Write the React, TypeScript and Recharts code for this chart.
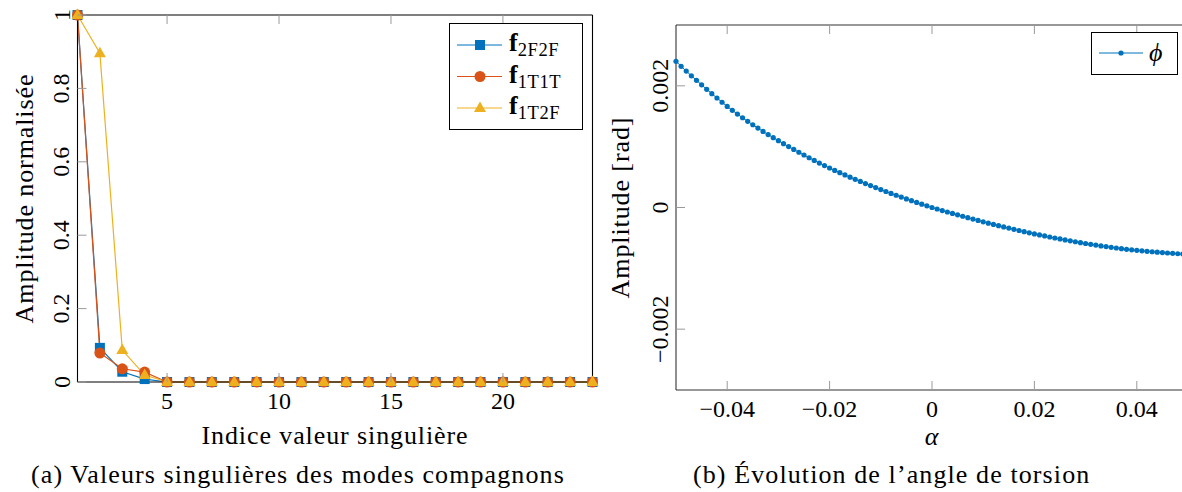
import React from 'react';
import { LineChart, Line, XAxis, YAxis, Legend } from 'recharts';

const FONT = '"Liberation Serif", "DejaVu Serif", serif';
const BLUE = '#0072BD';
const ORANGE = '#D95319';
const YELLOW = '#EDB120';
const TICK_COLOR = '#9a9a9a';
const TICK_LEN = 9;

// (a) singular values of the companion modes
const indices = [1, 2, 3, 4, 5, 6, 7, 8, 9, 10, 11, 12, 13, 14, 15, 16, 17, 18, 19, 20, 21, 22, 23, 24];
const f2F2F = [1, 0.093, 0.028, 0.008, 0, 0, 0, 0, 0, 0, 0, 0, 0, 0, 0, 0, 0, 0, 0, 0, 0, 0, 0, 0];
const f1T1T = [1, 0.079, 0.036, 0.027, 0, 0, 0, 0, 0, 0, 0, 0, 0, 0, 0, 0, 0, 0, 0, 0, 0, 0, 0, 0];
const f1T2F = [1, 0.896, 0.087, 0.019, 0, 0, 0, 0, 0, 0, 0, 0, 0, 0, 0, 0, 0, 0, 0, 0, 0, 0, 0, 0];
const leftXTicks = [5, 10, 15, 20];
const leftXTickLabels = ['5', '10', '15', '20'];
const leftYTicks = [0, 0.2, 0.4, 0.6, 0.8, 1];
const leftYTickLabels = ['0', '0.2', '0.4', '0.6', '0.8', '1'];

// (b) torsion angle vs alpha
const alpha = [
  -0.05, -0.049, -0.048, -0.047, -0.046, -0.045, -0.044, -0.043, -0.042, -0.041,
  -0.04, -0.039, -0.038, -0.037, -0.036, -0.035, -0.034, -0.033, -0.032, -0.031,
  -0.03, -0.029, -0.028, -0.027, -0.026, -0.025, -0.024, -0.023, -0.022, -0.021,
  -0.02, -0.019, -0.018, -0.017, -0.016, -0.015, -0.014, -0.013, -0.012, -0.011,
  -0.01, -0.009, -0.008, -0.007, -0.006, -0.005, -0.004, -0.003, -0.002, -0.001,
  0, 0.001, 0.002, 0.003, 0.004, 0.005, 0.006, 0.007, 0.008, 0.009,
  0.01, 0.011, 0.012, 0.013, 0.014, 0.015, 0.016, 0.017, 0.018, 0.019,
  0.02, 0.021, 0.022, 0.023, 0.024, 0.025, 0.026, 0.027, 0.028, 0.029,
  0.03, 0.031, 0.032, 0.033, 0.034, 0.035, 0.036, 0.037, 0.038, 0.039,
  0.04, 0.041, 0.042, 0.043, 0.044, 0.045, 0.046, 0.047, 0.048, 0.049, 0.05,
];
const phi = [
  0.002403, 0.002321, 0.002242, 0.002165, 0.00209, 0.002016, 0.001943, 0.001871, 0.0018, 0.00173,
  0.001661, 0.001597, 0.001535, 0.001475, 0.001417, 0.00136, 0.001305, 0.001251, 0.001199, 0.001148,
  0.001098, 0.001049, 0.001001, 0.000954, 0.000908, 0.000863, 0.000818, 0.000774, 0.000731, 0.000689,
  0.000649, 0.00061, 0.000572, 0.000535, 0.000499, 0.000463, 0.000428, 0.000394, 0.00036, 0.000327,
  0.000295, 0.000263, 0.000232, 0.000201, 0.000171, 0.000141, 0.000112, 0.000083, 0.000055, 0.000027,
  0, -0.000025, -0.00005, -0.000074, -0.000098, -0.000121, -0.000144, -0.000167, -0.00019, -0.000213,
  -0.000236, -0.000257, -0.000278, -0.000299, -0.000319, -0.000339, -0.000359, -0.000378, -0.000397, -0.000416,
  -0.000434, -0.000451, -0.000468, -0.000485, -0.000501, -0.000517, -0.000533, -0.000548, -0.000563, -0.000578,
  -0.000592, -0.000605, -0.000618, -0.000631, -0.000643, -0.000655, -0.000666, -0.000677, -0.000687, -0.000696,
  -0.000704, -0.000712, -0.00072, -0.000727, -0.000734, -0.000741, -0.000748, -0.000754, -0.00076, -0.000766, -0.000772,
];
const rightXTicks = [-0.04, -0.02, 0, 0.02, 0.04];
const rightXTickLabels = ['\u22120.04', '\u22120.02', '0', '0.02', '0.04'];
const rightYTicks = [-0.002, 0, 0.002];
const rightYTickLabels = ['\u22120.002', '0', '0.002'];

const leftData = indices.map((i, k) => ({ index: i, f2F2F: f2F2F[k], f1T1T: f1T1T[k], f1T2F: f1T2F[k] }));
const rightData = alpha.map((a, k) => ({ alpha: a, phi: phi[k] }));

const tickText: React.CSSProperties = { fontFamily: FONT, fontSize: 24, fill: '#000' };

// inward ticks like pgfplots, labels drawn by hand
const bottomTick = (ticks: number[], labels: string[]) => (props: any) => {
  const { x, y, payload } = props;
  return (
    <g>
      <line x1={x} x2={x} y1={y} y2={y - TICK_LEN} stroke={TICK_COLOR} />
      <text x={x} y={y + 27} textAnchor="middle" style={tickText}>
        {labels[ticks.indexOf(payload.value)]}
      </text>
    </g>
  );
};

const topTick = (props: any) => {
  const { x, y } = props;
  return <line x1={x} x2={x} y1={y} y2={y + TICK_LEN} stroke={TICK_COLOR} />;
};

const leftTick = (ticks: number[], labels: string[]) => (props: any) => {
  const { x, y, payload } = props;
  const tx = x - 8;
  return (
    <g>
      <line x1={x} x2={x + TICK_LEN} y1={y} y2={y} stroke={TICK_COLOR} />
      <text x={tx} y={y} transform={`rotate(-90 ${tx} ${y})`} textAnchor="middle" style={tickText}>
        {labels[ticks.indexOf(payload.value)]}
      </text>
    </g>
  );
};

const rightTick = (props: any) => {
  const { x, y } = props;
  return <line x1={x} x2={x - TICK_LEN} y1={y} y2={y} stroke={TICK_COLOR} />;
};

const squareDot = (color: string) => (props: any) => (
  <rect key={`sq-${props.index}`} x={props.cx - 5} y={props.cy - 5} width={10} height={10} fill={color} />
);
const circleDot = (color: string) => (props: any) => (
  <circle key={`ci-${props.index}`} cx={props.cx} cy={props.cy} r={5.5} fill={color} />
);
const triangleDot = (color: string) => (props: any) => (
  <path
    key={`tr-${props.index}`}
    d={`M${props.cx},${props.cy - 6.5} L${props.cx + 6},${props.cy + 4} L${props.cx - 6},${props.cy + 4} Z`}
    fill={color}
  />
);
const smallDot = (props: any) => (
  <circle key={`d-${props.index}`} cx={props.cx} cy={props.cy} r={2.6} fill={BLUE} />
);

const legendRows = [
  { sub: '2F2F', color: BLUE, shape: 'square' },
  { sub: '1T1T', color: ORANGE, shape: 'circle' },
  { sub: '1T2F', color: YELLOW, shape: 'triangle' },
];

function LeftLegend() {
  return (
    <svg width={134} height={107} style={{ display: 'block' }}>
      <rect x={0.5} y={0.5} width={133} height={106} fill="#fff" stroke="#000" />
      {legendRows.map((r, i) => {
        const cy = 22 + i * 31.5;
        return (
          <g key={r.sub}>
            <line x1={8} x2={53} y1={cy} y2={cy} stroke={r.color} strokeWidth={1.2} />
            {r.shape === 'square' && <rect x={26} y={cy - 5} width={10} height={10} fill={r.color} />}
            {r.shape === 'circle' && <circle cx={31} cy={cy} r={5.5} fill={r.color} />}
            {r.shape === 'triangle' && (
              <path d={`M31,${cy - 6.5} L37,${cy + 4} L25,${cy + 4} Z`} fill={r.color} />
            )}
            <text x={60} y={cy + 6} style={{ fontFamily: FONT, fontSize: 26, fill: '#000' }}>
              <tspan fontWeight="bold">f</tspan>
              <tspan fontSize={18.5} dy={5} letterSpacing={0.6}>{r.sub}</tspan>
            </text>
          </g>
        );
      })}
    </svg>
  );
}

function RightLegend() {
  return (
    <svg width={87} height={43} style={{ display: 'block' }}>
      <rect x={0.5} y={0.5} width={86} height={42} fill="#fff" stroke="#000" />
      <line x1={8} x2={52} y1={21} y2={21} stroke={BLUE} strokeWidth={1} />
      <circle cx={30} cy={21} r={2.6} fill={BLUE} />
      <text x={58} y={29} style={{ fontFamily: FONT, fontSize: 26, fontStyle: 'italic', fill: '#000' }}>
        {'\u03D5'}
      </text>
    </svg>
  );
}

const titleStyle: React.CSSProperties = { fontFamily: FONT, fontSize: 26, fill: '#000', letterSpacing: 0.9 };
const captionStyle: React.CSSProperties = { ...titleStyle, letterSpacing: 1.1 };

export default function App() {
  return (
    <div
      style={{
        position: 'fixed',
        left: 0,
        top: 0,
        width: 1182,
        height: 492,
        overflow: 'hidden',
        background: '#fff',
      }}
    >
      <div style={{ position: 'absolute', left: 0, top: 0 }}>
        {/* plot area: x 77.5..592.5, y 15..382 */}
        <LineChart width={600} height={430} data={leftData} margin={{ top: 10, left: 27.5, right: 2.5, bottom: 18 }}>
          <XAxis
            dataKey="index"
            type="number"
            domain={[1, 24]}
            ticks={leftXTicks}
            interval={0}
            height={30}
            tickSize={0}
            tickMargin={0}
            tickLine={false}
            axisLine={{ stroke: '#000', strokeWidth: 1.1 }}
            tick={bottomTick(leftXTicks, leftXTickLabels)}
          />
          <XAxis
            xAxisId="top"
            orientation="top"
            dataKey="index"
            type="number"
            domain={[1, 24]}
            ticks={leftXTicks}
            interval={0}
            height={5}
            tickSize={0}
            tickMargin={0}
            tickLine={false}
            axisLine={{ stroke: '#000', strokeWidth: 1.1 }}
            tick={topTick}
          />
          <YAxis
            type="number"
            domain={[0, 1]}
            ticks={leftYTicks}
            interval={0}
            width={50}
            tickSize={0}
            tickMargin={0}
            tickLine={false}
            axisLine={{ stroke: '#000', strokeWidth: 1.1 }}
            tick={leftTick(leftYTicks, leftYTickLabels)}
          />
          <YAxis
            yAxisId="right"
            orientation="right"
            type="number"
            domain={[0, 1]}
            ticks={leftYTicks}
            interval={0}
            width={5}
            tickSize={0}
            tickMargin={0}
            tickLine={false}
            axisLine={{ stroke: '#000', strokeWidth: 1.1 }}
            tick={rightTick}
          />
          <Legend
            layout="vertical"
            align="center"
            verticalAlign="middle"
            content={() => <LeftLegend />}
            wrapperStyle={{ left: 449, top: 23, width: 134, height: 107 }}
          />
          <Line type="linear" dataKey="f2F2F" name="f2F2F" stroke={BLUE} strokeWidth={1.2} dot={squareDot(BLUE)} activeDot={false} isAnimationActive={false} />
          <Line type="linear" dataKey="f1T1T" name="f1T1T" stroke={ORANGE} strokeWidth={1.2} dot={circleDot(ORANGE)} activeDot={false} isAnimationActive={false} />
          <Line type="linear" dataKey="f1T2F" name="f1T2F" stroke={YELLOW} strokeWidth={1.2} dot={triangleDot(YELLOW)} activeDot={false} isAnimationActive={false} />
        </LineChart>
      </div>

      <div style={{ position: 'absolute', left: 600, top: 0 }}>
        {/* plot area: x 676..1188 (page), y 25..390 */}
        <LineChart width={600} height={440} data={rightData} margin={{ top: 20, left: 26, right: 7, bottom: 25 }}>
          <XAxis
            dataKey="alpha"
            type="number"
            domain={[-0.05, 0.05]}
            ticks={rightXTicks}
            interval={0}
            height={25}
            tickSize={0}
            tickMargin={0}
            tickLine={false}
            axisLine={{ stroke: '#333', strokeWidth: 1.1 }}
            tick={bottomTick(rightXTicks, rightXTickLabels)}
          />
          <XAxis
            xAxisId="top"
            orientation="top"
            dataKey="alpha"
            type="number"
            domain={[-0.05, 0.05]}
            ticks={rightXTicks}
            interval={0}
            height={5}
            tickSize={0}
            tickMargin={0}
            tickLine={false}
            axisLine={{ stroke: '#333', strokeWidth: 1.1 }}
            tick={topTick}
          />
          <YAxis
            type="number"
            domain={[-0.003, 0.003]}
            ticks={rightYTicks}
            interval={0}
            width={50}
            tickSize={0}
            tickMargin={0}
            tickLine={false}
            axisLine={{ stroke: '#333', strokeWidth: 1.1 }}
            tick={leftTick(rightYTicks, rightYTickLabels)}
          />
          <YAxis
            yAxisId="right"
            orientation="right"
            type="number"
            domain={[-0.003, 0.003]}
            ticks={rightYTicks}
            interval={0}
            width={5}
            tickSize={0}
            tickMargin={0}
            tickLine={false}
            axisLine={{ stroke: '#333', strokeWidth: 1.1 }}
            tick={rightTick}
          />
          <Legend
            layout="vertical"
            align="center"
            verticalAlign="middle"
            content={() => <RightLegend />}
            wrapperStyle={{ left: 491, top: 32, width: 87, height: 43 }}
          />
          <Line type="linear" dataKey="phi" name="phi" stroke={BLUE} strokeWidth={1} dot={smallDot} activeDot={false} isAnimationActive={false} />
        </LineChart>
      </div>

      <svg width={1182} height={492} style={{ position: 'absolute', left: 0, top: 0, pointerEvents: 'none' }}>
        <text x={33} y={198.5} transform="rotate(-90 33 198.5)" textAnchor="middle" style={titleStyle}>
          Amplitude normalisée
        </text>
        <text x={335} y={444} textAnchor="middle" style={titleStyle}>
          Indice valeur singulière
        </text>
        <text x={31} y={483} style={captionStyle}>
          (a) Valeurs singulières des modes compagnons
        </text>
        <text x={629} y={207.5} transform="rotate(-90 629 207.5)" textAnchor="middle" style={titleStyle}>
          Amplitude [rad]
        </text>
        <text x={932} y={445} textAnchor="middle" style={{ ...titleStyle, fontStyle: 'italic' }}>
          α
        </text>
        <text x={693} y={483} style={captionStyle}>
          (b) Évolution de l’angle de torsion
        </text>
      </svg>
    </div>
  );
}
